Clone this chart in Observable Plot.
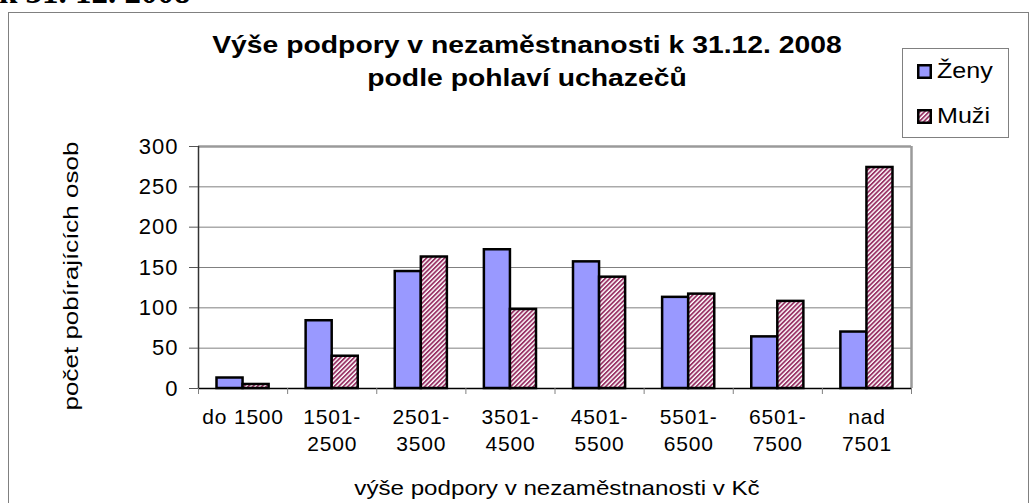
<!DOCTYPE html>
<html><head><meta charset="utf-8">
<script src="https://cdn.jsdelivr.net/npm/d3@7"></script>
<script src="https://cdn.jsdelivr.net/npm/@observablehq/plot@0.6"></script>
<style>
body{margin:0;background:#fff;}
#wrap{position:relative;width:1035px;height:503px;overflow:hidden;font-family:"Liberation Sans",Arial,sans-serif;background:#fff;}
#wrap > svg{position:absolute;left:0;top:0;}
#wrap > svg g[aria-label="y-axis tick label"]{letter-spacing:1px;}
#wrap > svg g[aria-label="x-axis tick label"]{letter-spacing:0.8px;}
.ov{position:absolute;white-space:nowrap;}
#frame{left:8px;top:12px;width:1021px;height:520px;border:1.5px solid #808080;box-sizing:border-box;}
#pre{left:-1px;top:-24px;font-family:"Liberation Serif","Times New Roman",serif;font-weight:bold;font-size:33px;line-height:33px;}
#title{left:227px;top:28px;width:600px;text-align:center;font-weight:bold;font-size:24px;line-height:33px;transform:scaleX(1.18);}
#legend{left:902px;top:48px;width:107px;height:90px;border:1px solid #808080;box-sizing:border-box;background:#fff;}
.li{position:absolute;left:14px;height:24px;font-size:22px;line-height:24px;display:flex;align-items:center;}
.li span{display:inline-block;transform:scaleX(1.14);transform-origin:0 50%;}
.li svg{position:static !important;margin-right:5px;}
#ytitle{left:71px;top:276px;font-size:20px;transform:translate(-50%,-50%) rotate(-90deg) scaleX(1.3);}
#xtitle{left:557px;top:488px;font-size:21px;transform:translate(-50%,-50%) scaleX(1.15);}
</style></head><body><div id="wrap"></div>
<script>
// ---- data ----
const categories = ["do 1500", "1501-\n2500", "2501-\n3500", "3501-\n4500", "4501-\n5500", "5501-\n6500", "6501-\n7500", "nad\n7501"];
const zeny = [13, 84, 145, 172, 157, 113, 64, 70];
const muzi = [5, 40, 163, 98, 138, 117, 108, 274];
const seriesNames = ["Ženy", "Muži"];
const yTicks = [0, 50, 100, 150, 200, 250, 300];
const titleText = ["Výše podpory v nezaměstnanosti k 31.12. 2008", "podle pohlaví uchazečů"];
const preText = "k 31. 12. 2008";
const xTitle = "výše podpory v nezaměstnanosti v Kč";
const yTitle = "počet pobírajících osob";

const rows = [];
categories.forEach((c, i) => {
  rows.push({i, cat: c, series: seriesNames[0], value: zeny[i]});
  rows.push({i, cat: c, series: seriesNames[1], value: muzi[i]});
});

const gap = 0.2076; // outer gap inside each category slot
const x1 = d => d.i + (d.series === seriesNames[0] ? gap : 0.5);
const x2 = d => d.i + (d.series === seriesNames[0] ? 0.5 : 1 - gap);

const n = categories.length;
const svg = Plot.plot({
  width: 1035, height: 503,
  marginLeft: 198, marginRight: 124, marginTop: 146, marginBottom: 115,
  style: {fontFamily: "'Liberation Sans', Arial, sans-serif", fontSize: "21px", background: "transparent", color: "#000"},
  x: {type: "linear", domain: [0, n], label: null},
  y: {domain: [0, 300], label: null},
  marks: [
    Plot.gridY(yTicks.slice(1, -1), {stroke: "#808080", strokeOpacity: 1, strokeWidth: 1}),
    Plot.ruleY([300], {stroke: "#9a9a9a", strokeWidth: 2.5}),
    Plot.ruleX([n], {stroke: "#9a9a9a", strokeWidth: 2.5}),
    Plot.rectY(rows, {
      x1, x2, y1: 0, y2: "value",
      fill: d => d.series === seriesNames[0] ? "#9999FF" : "url(#hatch)",
      stroke: "#000", strokeWidth: 2.5
    }),
    Plot.ruleY([0], {stroke: "#000", strokeWidth: 1.5}),
    Plot.ruleX([0], {stroke: "#333", strokeWidth: 1.5}),
    Plot.axisY({ticks: yTicks, tickSize: 9, tickPadding: 11, fontSize: 22, stroke: "#555", label: null, tickFormat: d => String(d)}),
    Plot.axisX({ticks: d3.range(0, n + 1), tickSize: 6, tickFormat: () => "", stroke: "#808080", label: null}),
    Plot.axisX({ticks: d3.range(n).map(i => i + 0.5), tickSize: 0, tickPadding: 16, fontSize: 21, lineHeight: 1.3,
      tickFormat: d => categories[Math.floor(d)], label: null})
  ]
});

const defs = document.createElementNS("http://www.w3.org/2000/svg", "defs");
defs.innerHTML = '<pattern id="hatch" patternUnits="userSpaceOnUse" width="3.2" height="3.2" patternTransform="rotate(45)">' +
  '<rect width="3.2" height="3.2" fill="#fff"/><rect width="1.8" height="3.2" fill="#993366"/></pattern>';
svg.prepend(defs);

const wrap = document.getElementById("wrap");
wrap.appendChild(svg);

function ov(id, html) {
  const d = document.createElement("div");
  d.className = "ov"; d.id = id; d.innerHTML = html; wrap.appendChild(d); return d;
}
ov("frame", "");
ov("pre", preText);
ov("title", titleText.join("<br>"));
ov("ytitle", yTitle);
ov("xtitle", xTitle);
const leg = ov("legend", "");
seriesNames.forEach((s, k) => {
  const item = document.createElement("div");
  item.className = "li";
  item.style.top = (k === 0 ? 10 : 55) + "px";
  const fill = k === 0 ? "#9999FF" : "url(#hatch)";
  item.innerHTML = `<svg width="15" height="15"><rect x="1.25" y="1.25" width="12.5" height="12.5" fill="${fill}" stroke="#000" stroke-width="2.5"/></svg><span>${s}</span>`;
  leg.appendChild(item);
});
</script></body></html>
